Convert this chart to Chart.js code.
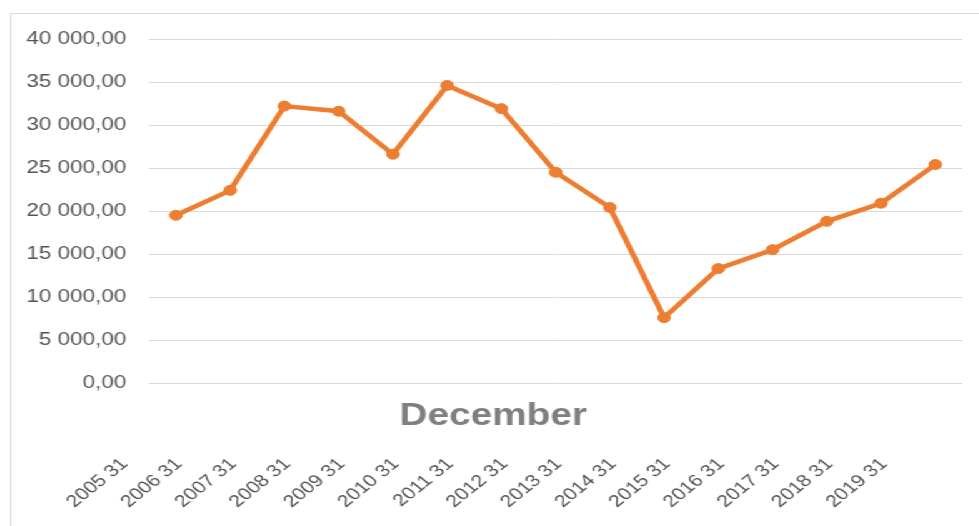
<!DOCTYPE html>
<html>
<head>
<meta charset="utf-8">
<script src="https://cdn.jsdelivr.net/npm/chart.js@4/dist/chart.umd.min.js"></script>
<style>
    html, body { margin: 0; padding: 0; background: #fff; overflow: hidden; }
    /* the reference is a horizontally stretched screenshot, so draw narrow and stretch */
    #wrap { position: absolute; left: 0; top: 0; width: 783px; height: 526px; transform: scaleX(1.25); transform-origin: 0 0; }
    #frame { position: absolute; left: 8px; top: 13px; width: 900px; height: 600px; border: 1px solid #d9d9d9; }
    #box { position: absolute; left: 0; top: 0; width: 783px; height: 526px; }
</style>
</head>
<body>
<div id="wrap">
    <div id="frame"></div>
    <div id="box"><canvas id="chart"></canvas></div>
</div>
<script>
const categories = ['2005 31', '2006 31', '2007 31', '2008 31', '2009 31', '2010 31', '2011 31', '2012 31',
    '2013 31', '2014 31', '2015 31', '2016 31', '2017 31', '2018 31', '2019 31'];
const values = [19500, 22400, 32200, 31600, 26600, 34600, 31900, 24500, 20400, 7600, 13300, 15500, 18800, 20900, 25400];
const yMin = 0;
const yMax = 40000;
const yStep = 5000;
const axisTitleText = 'December';

// "40 000,00" style
function fmt(v) {
    const int = Math.round(v).toString().replace(/\B(?=(\d{3})+(?!\d))/g, ' ');
    return int + ',00';
}

/* ── x axis title sits between the axis and the rotated labels ── */
const axisTitle = {
    id: 'axisTitle',
    afterDraw(chart) {
        const { ctx, chartArea } = chart;
        ctx.save();
        ctx.font = 'bold 31px "Liberation Sans"';
        ctx.fillStyle = '#7f7f7f';
        ctx.textAlign = 'center';
        ctx.textBaseline = 'alphabetic';
        ctx.fillText(axisTitleText, (chartArea.left + chartArea.right) / 2 - 50, chartArea.bottom + 42);
        ctx.restore();
    }
};

const ctx = document.getElementById('chart').getContext('2d');
new Chart(ctx, {
    type: 'line',
    data: {
        labels: categories,
        datasets: [{
            data: values,
            borderColor: '#ED7D31',
            backgroundColor: '#ED7D31',
            borderWidth: 4.5,
            pointRadius: 5,
            pointBorderWidth: 1,
            tension: 0
        }]
    },
    options: {
        responsive: true,
        maintainAspectRatio: false,
        animation: false,
        layout: { padding: { left: 9, top: 39, right: 13, bottom: 0 } },
        plugins: { legend: { display: false }, tooltip: { enabled: false } },
        scales: {
            x: {
                offset: true,
                grid: { display: false, drawTicks: false },
                border: { display: false },
                afterFit: (s) => { s.height = 143; s.paddingLeft = 0; s.paddingRight = 0; },
                ticks: {
                    autoSkip: false, maxRotation: 45, minRotation: 45,
                    padding: 71, labelOffset: -41,
                    color: '#555555', font: { family: 'Liberation Sans', size: 17 }
                }
            },
            y: {
                min: yMin, max: yMax,
                grid: { color: '#d9d9d9', drawTicks: false },
                border: { display: false },
                afterFit: (s) => { s.width = 110; },
                ticks: {
                    stepSize: yStep, padding: 18,
                    color: '#555555', font: { family: 'Liberation Sans', size: 18 },
                    callback: (v) => fmt(v)
                }
            }
        }
    },
    plugins: [axisTitle]
});
</script>
</body>
</html>
